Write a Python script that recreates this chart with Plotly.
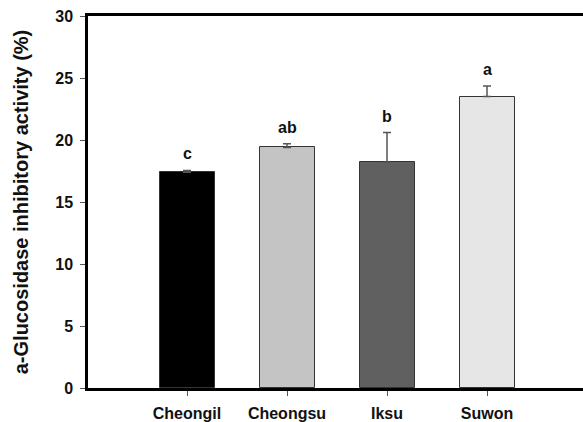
import plotly.graph_objects as go

categories = ["Cheongil", "Cheongsu", "Iksu", "Suwon"]
values = [17.4, 19.4, 18.2, 23.5]
errors = [0.15, 0.3, 2.4, 0.85]
letters = ["c", "ab", "b", "a"]
colors = ["#000000", "#c4c4c4", "#606060", "#e6e6e6"]
yticks = [0, 5, 10, 15, 20, 25, 30]

font = "Liberation Sans, Arial, sans-serif"

fig = go.Figure()
fig.add_trace(go.Bar(
    x=list(range(len(categories))), y=values, width=0.55,
    marker=dict(color=colors, line=dict(color="#333333", width=1)),
    error_y=dict(type="data", array=errors, arrayminus=[0]*len(errors), symmetric=False,
                 color="#555555", thickness=1.5, width=4),
    showlegend=False,
))
for i, (v, e, t) in enumerate(zip(values, errors, letters)):
    fig.add_annotation(x=i, y=v + e, text="<b>%s</b>" % t, showarrow=False,
                       yanchor="bottom", yshift=6,
                       font=dict(family=font, size=16, color="#111111"))

fig.update_layout(
    width=583, height=422,
    margin=dict(l=88, r=0, t=16, b=34),
    plot_bgcolor="white", paper_bgcolor="white",
    bargap=0,
)
fig.update_xaxes(
    range=[-0.99, 3.96], tickvals=list(range(len(categories))),
    ticktext=["<b>%s</b>" % c for c in categories],
    showline=True, linecolor="black", linewidth=2.5, mirror=True,
    ticks="outside", ticklen=5, tickcolor="#555555", tickwidth=1,
    ticklabelstandoff=4,
    tickfont=dict(family=font, size=16, color="#111111"),
    showgrid=False, zeroline=False, automargin=False,
)
fig.update_yaxes(
    range=[0, 30], tickvals=yticks, ticktext=["<b>%d</b>" % t for t in yticks],
    showline=True, linecolor="black", linewidth=2.5,
    ticks="outside", ticklen=5, tickcolor="#555555", tickwidth=1,
    ticklabelstandoff=4,
    tickfont=dict(family=font, size=16, color="#111111"),
    title=dict(text="<b>a-Glucosidase inhibitory activity (%)</b>",
               font=dict(family=font, size=20, color="#111111"), standoff=22),
    showgrid=False, zeroline=False, automargin=False,
)

fig.write_html("out.html", config={"displayModeBar": False},
               post_script="document.body.style.margin='0';document.body.style.overflow='hidden';")
